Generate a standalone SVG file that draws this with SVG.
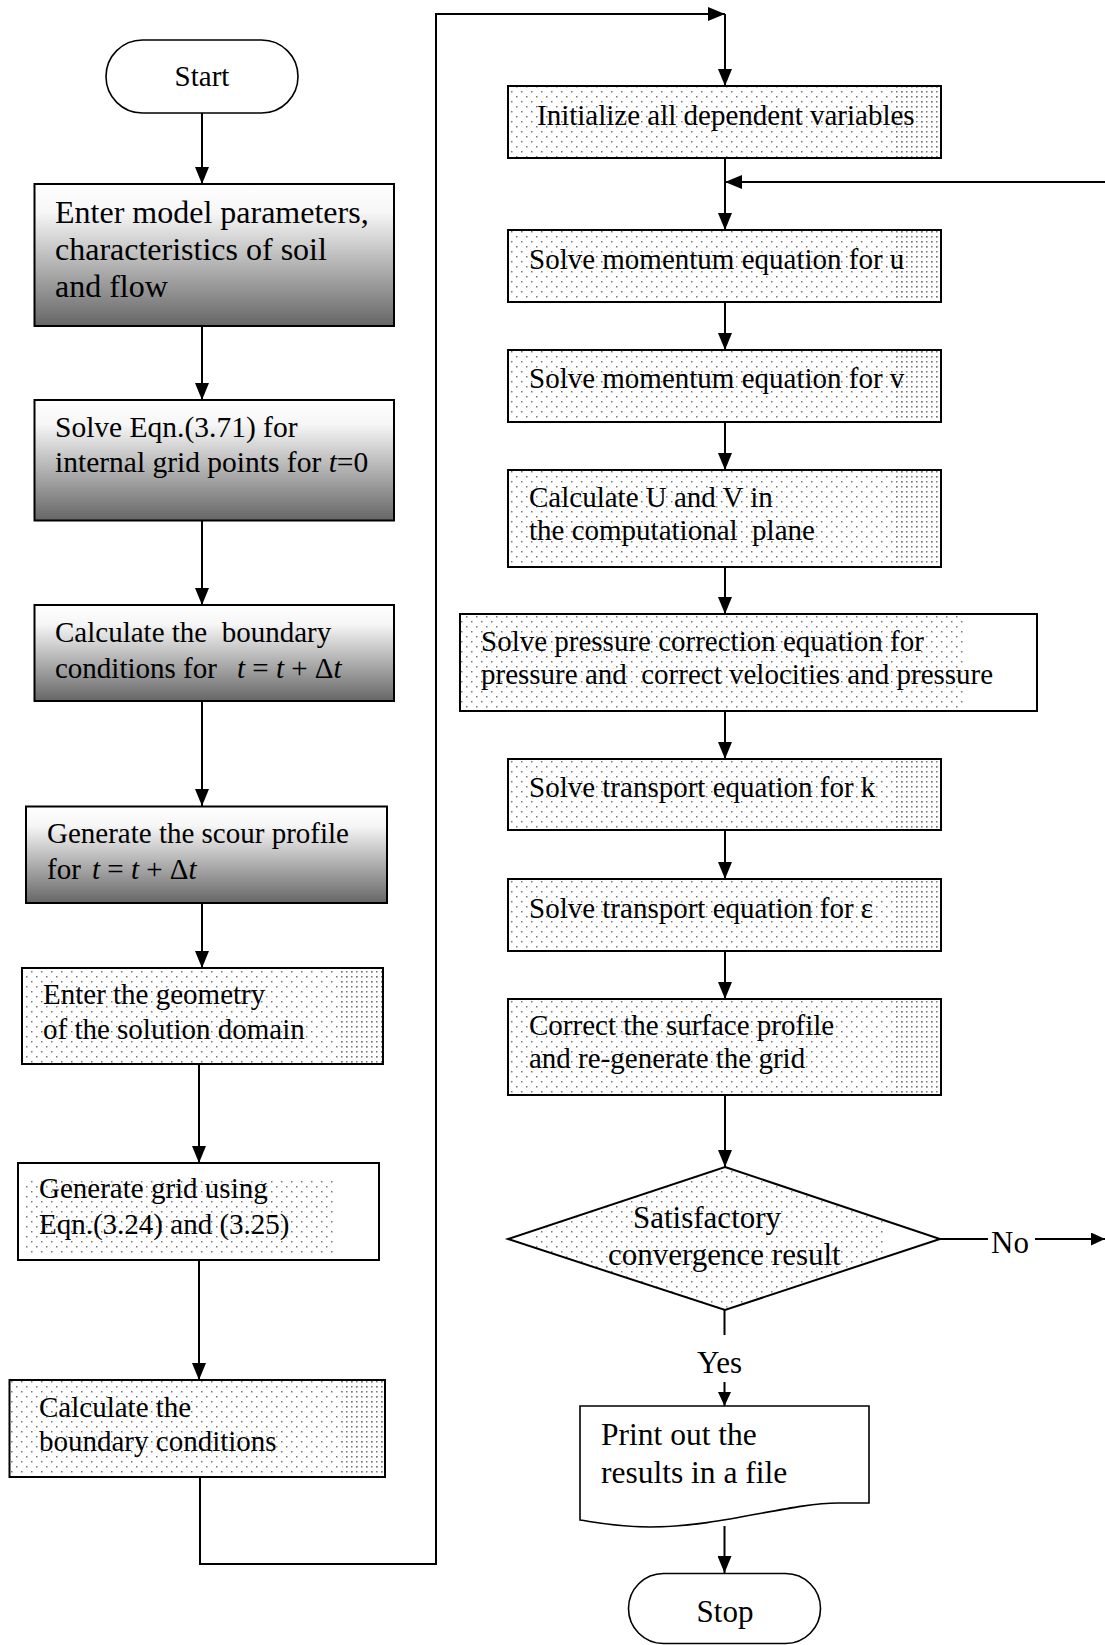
<svg xmlns="http://www.w3.org/2000/svg" width="1105" height="1645" viewBox="0 0 1105 1645">
<style>
.t{font-family:"Liberation Serif","Times New Roman",serif;font-size:29px;fill:#000;white-space:pre}
.l{font-size:31px}
.box{fill:none;stroke:#000;stroke-width:2}
.term{fill:#fff;stroke:#000;stroke-width:1.6}
.c{fill:none;stroke:#000;stroke-width:2}
.i{font-style:italic}
</style>
<defs>
<linearGradient id="shade" x1="0" y1="0" x2="0" y2="1">
<stop offset="0" stop-color="#ffffff"/>
<stop offset="0.2" stop-color="#f6f6f6"/>
<stop offset="1" stop-color="#666666"/>
</linearGradient>
<pattern id="dots" width="10" height="10" patternUnits="userSpaceOnUse">
<rect x="1" y="1" width="1.5" height="1.5" fill="#777777"/>
<rect x="6" y="6" width="1.5" height="1.5" fill="#777777"/>
</pattern>
<pattern id="dense" width="5" height="5" patternUnits="userSpaceOnUse">
<rect x="1" y="1" width="1.5" height="1.5" fill="#777777"/>
</pattern>
<marker id="arr" markerUnits="userSpaceOnUse" markerWidth="17" markerHeight="14" refX="17" refY="7" orient="auto">
<path d="M0,0 L17,7 L0,14 Z" fill="#000"/>
</marker>
<marker id="arrs" markerUnits="userSpaceOnUse" markerWidth="14" markerHeight="13" refX="14" refY="6.5" orient="auto">
<path d="M0,0 L14,6.5 L0,13 Z" fill="#000"/>
</marker>
<clipPath id="diaClip"><polygon points="725,1167 940,1239 725,1310 508,1239"/></clipPath>
</defs>
<rect width="1105" height="1645" fill="#fff"/>

<g id="connectors">
<line class="c" x1="202" y1="113" x2="202" y2="184" marker-end="url(#arr)"/>
<line class="c" x1="202" y1="326" x2="202" y2="400" marker-end="url(#arr)"/>
<line class="c" x1="202" y1="520" x2="202" y2="605" marker-end="url(#arr)"/>
<line class="c" x1="202" y1="701" x2="202" y2="806" marker-end="url(#arr)"/>
<line class="c" x1="202" y1="903" x2="202" y2="968" marker-end="url(#arr)"/>
<line class="c" x1="199" y1="1064" x2="199" y2="1163" marker-end="url(#arr)"/>
<line class="c" x1="199" y1="1260" x2="199" y2="1380" marker-end="url(#arr)"/>
<polyline class="c" points="200,1477 200,1564 436,1564 436,14 725,14" marker-end="url(#arr)"/>
<line class="c" x1="725" y1="14" x2="725" y2="86" marker-end="url(#arr)"/>
<line class="c" x1="725" y1="158" x2="725" y2="230" marker-end="url(#arr)"/>
<line class="c" x1="1105" y1="182" x2="725" y2="182" marker-end="url(#arr)"/>
<line class="c" x1="725" y1="302" x2="725" y2="350" marker-end="url(#arr)"/>
<line class="c" x1="725" y1="422" x2="725" y2="470" marker-end="url(#arr)"/>
<line class="c" x1="725" y1="567" x2="725" y2="614" marker-end="url(#arr)"/>
<line class="c" x1="725" y1="711" x2="725" y2="759" marker-end="url(#arr)"/>
<line class="c" x1="725" y1="830" x2="725" y2="879" marker-end="url(#arr)"/>
<line class="c" x1="725" y1="951" x2="725" y2="999" marker-end="url(#arr)"/>
<line class="c" x1="725" y1="1095" x2="725" y2="1167" marker-end="url(#arr)"/>
<line class="c" x1="724.5" y1="1310" x2="724.5" y2="1335"/>
<text class="t l" x="697" y="1373">Yes</text>
<line class="c" x1="724.5" y1="1382" x2="724.5" y2="1406" marker-end="url(#arrs)"/>
<line class="c" x1="940" y1="1239" x2="988" y2="1239"/>
<text class="t l" x="991" y="1253">No</text>
<line class="c" x1="1035" y1="1239" x2="1105" y2="1239" marker-end="url(#arrs)"/>
<line class="c" x1="724.5" y1="1526" x2="724.5" y2="1573" marker-end="url(#arr)"/>
</g>

<g id="start">
<rect class="term" x="106" y="40" width="192" height="73" rx="36.5"/>
<text class="t" x="202" y="86" text-anchor="middle">Start</text>
</g>

<g id="enter-params">
<rect x="34.5" y="184" width="359.5" height="142" fill="url(#shade)"/>
<rect class="box" x="34.5" y="184" width="359.5" height="142"/>
<text class="t" style="font-size:32px"><tspan x="55" y="223">Enter model parameters,</tspan><tspan x="55" y="260">characteristics of soil</tspan><tspan x="55" y="297">and flow</tspan></text>
</g>

<g id="solve-371">
<rect x="34.5" y="400" width="359.5" height="120.5" fill="url(#shade)"/>
<rect class="box" x="34.5" y="400" width="359.5" height="120.5"/>
<text class="t" style="font-size:29.5px"><tspan x="55" y="437">Solve Eqn.(3.71) for</tspan><tspan x="55" y="471.5">internal grid points for <tspan class="i">t</tspan>=0</tspan></text>
</g>

<g id="calc-bc-dt">
<rect x="34.5" y="605" width="359.5" height="96" fill="url(#shade)"/>
<rect class="box" x="34.5" y="605" width="359.5" height="96"/>
<text class="t"><tspan x="55" y="642">Calculate the  boundary</tspan><tspan x="55" y="678">conditions for</tspan><tspan x="237" y="678"><tspan class="i">t</tspan> = <tspan class="i">t</tspan> + Δ<tspan class="i">t</tspan></tspan></text>
</g>

<g id="scour-profile">
<rect x="26" y="806.5" width="361" height="96.5" fill="url(#shade)"/>
<rect class="box" x="26" y="806.5" width="361" height="96.5"/>
<text class="t"><tspan x="47" y="843">Generate the scour profile</tspan><tspan x="47" y="879">for</tspan><tspan x="92" y="879"><tspan class="i">t</tspan> = <tspan class="i">t</tspan> + Δ<tspan class="i">t</tspan></tspan></text>
</g>

<g id="geometry">
<rect x="22" y="968" width="361" height="96" fill="#fff"/>
<rect x="22" y="968" width="361" height="96" fill="url(#dots)"/>
<rect x="338" y="968" width="45" height="96" fill="url(#dense)"/>
<rect class="box" x="22" y="968" width="361" height="96"/>
<text class="t"><tspan x="43" y="1004">Enter the geometry</tspan><tspan x="43" y="1039">of the solution domain</tspan></text>
</g>

<g id="gen-grid">
<rect x="18" y="1163" width="361" height="97" fill="#fff"/>
<rect x="25" y="1178" width="308" height="77" fill="url(#dots)"/>
<rect class="box" x="18" y="1163" width="361" height="97"/>
<text class="t"><tspan x="39" y="1198">Generate grid using</tspan><tspan x="39" y="1234">Eqn.(3.24) and (3.25)</tspan></text>
</g>

<g id="calc-bc">
<rect x="9.5" y="1380" width="375.5" height="97" fill="#fff"/>
<rect x="9.5" y="1380" width="375.5" height="97" fill="url(#dots)"/>
<rect x="342" y="1380" width="43" height="97" fill="url(#dense)"/>
<rect class="box" x="9.5" y="1380" width="375.5" height="97"/>
<text class="t"><tspan x="39" y="1417">Calculate the</tspan><tspan x="39" y="1451">boundary conditions</tspan></text>
</g>

<g id="init">
<rect x="508" y="86" width="433" height="72" fill="#fff"/>
<rect x="508" y="86" width="433" height="72" fill="url(#dots)"/>
<rect x="895" y="86" width="46" height="72" fill="url(#dense)"/>
<rect class="box" x="508" y="86" width="433" height="72"/>
<text class="t" x="537" y="125">Initialize all dependent variables</text>
</g>

<g id="mom-u">
<rect x="508" y="230" width="433" height="72" fill="#fff"/>
<rect x="508" y="230" width="433" height="72" fill="url(#dots)"/>
<rect x="895" y="230" width="46" height="72" fill="url(#dense)"/>
<rect class="box" x="508" y="230" width="433" height="72"/>
<text class="t" x="529" y="269">Solve momentum equation for u</text>
</g>

<g id="mom-v">
<rect x="508" y="350" width="433" height="72" fill="#fff"/>
<rect x="508" y="350" width="433" height="72" fill="url(#dots)"/>
<rect x="895" y="350" width="46" height="72" fill="url(#dense)"/>
<rect class="box" x="508" y="350" width="433" height="72"/>
<text class="t" x="529" y="388">Solve momentum equation for v</text>
</g>

<g id="calc-uv">
<rect x="508" y="470" width="433" height="97" fill="#fff"/>
<rect x="508" y="470" width="433" height="97" fill="url(#dots)"/>
<rect x="895" y="470" width="46" height="97" fill="url(#dense)"/>
<rect class="box" x="508" y="470" width="433" height="97"/>
<text class="t"><tspan x="529" y="507">Calculate U and V in</tspan><tspan x="529" y="540">the computational  plane</tspan></text>
</g>

<g id="pressure">
<rect x="460" y="614" width="577" height="97" fill="#fff"/>
<rect x="460" y="614" width="503" height="97" fill="url(#dots)"/>
<rect class="box" x="460" y="614" width="577" height="97"/>
<text class="t"><tspan x="481" y="651">Solve pressure correction equation for</tspan><tspan x="481" y="684">pressure and  correct velocities and pressure</tspan></text>
</g>

<g id="transport-k">
<rect x="508" y="759" width="433" height="71" fill="#fff"/>
<rect x="508" y="759" width="433" height="71" fill="url(#dots)"/>
<rect x="895" y="759" width="46" height="71" fill="url(#dense)"/>
<rect class="box" x="508" y="759" width="433" height="71"/>
<text class="t" x="529" y="797">Solve transport equation for k</text>
</g>

<g id="transport-eps">
<rect x="508" y="879" width="433" height="72" fill="#fff"/>
<rect x="508" y="879" width="433" height="72" fill="url(#dots)"/>
<rect x="895" y="879" width="46" height="72" fill="url(#dense)"/>
<rect class="box" x="508" y="879" width="433" height="72"/>
<text class="t" x="529" y="918">Solve transport equation for ε</text>
</g>

<g id="correct-surface">
<rect x="508" y="999" width="433" height="96" fill="#fff"/>
<rect x="508" y="999" width="433" height="96" fill="url(#dots)"/>
<rect x="895" y="999" width="46" height="96" fill="url(#dense)"/>
<rect class="box" x="508" y="999" width="433" height="96"/>
<text class="t"><tspan x="529" y="1035">Correct the surface profile</tspan><tspan x="529" y="1068">and re-generate the grid</tspan></text>
</g>

<g id="convergence">
<polygon points="725,1167 940,1239 725,1310 508,1239" fill="#fff"/>
<rect x="533" y="1170" width="352" height="138" fill="url(#dots)" clip-path="url(#diaClip)"/>
<polygon class="box" points="725,1167 940,1239 725,1310 508,1239"/>
<text class="t l"><tspan x="633" y="1228">Satisfactory</tspan><tspan x="608" y="1265">convergence result</tspan></text>
</g>

<g id="print">
<path d="M580,1406 H869 V1503 H838 C790,1503 720,1527 650,1527 C620,1527 600,1523 580,1520 Z" fill="#fff" stroke="#000" stroke-width="1.6"/>
<text class="t" style="font-size:31.5px"><tspan x="601" y="1445">Print out the</tspan><tspan x="601" y="1483">results in a file</tspan></text>
</g>

<g id="stop">
<rect class="term" x="628.5" y="1573.5" width="192" height="70" rx="35"/>
<text class="t l" x="725" y="1622" text-anchor="middle">Stop</text>
</g>
</svg>
